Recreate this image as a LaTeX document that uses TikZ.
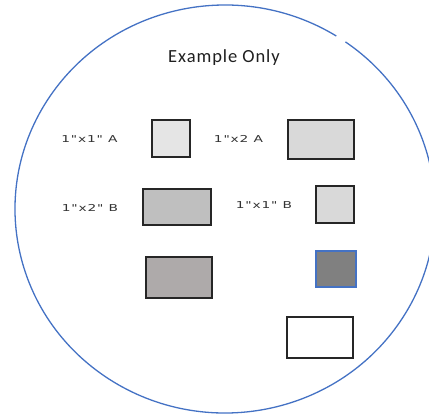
\documentclass[tikz,border=0pt]{standalone}
\usepackage{graphicx}
\usepackage{fontspec}
\setmainfont{Carlito}
\newfontfamily\titlefont[LetterSpace=5]{Carlito}
\newfontfamily\tagfont[LetterSpace=6]{DejaVu Sans}
\newcommand{\tagtxt}[1]{\scalebox{1.45}[1]{#1}}
\definecolor{rim}{HTML}{4472C4}
\definecolor{boxline}{HTML}{262626}
\definecolor{tagtext}{HTML}{333333}
\tikzset{
  box/.style={draw=boxline, line width=1.4pt, inner sep=0pt},
  tag/.style={font=\tagfont\fontsize{9.5}{10}\selectfont, text=tagtext, inner sep=0pt}
}
\begin{document}
\begin{tikzpicture}[x=1pt,y=-1pt]
\useasboundingbox (0,0) rectangle (429,415);
\coordinate (O) at (225,209);
\draw[rim, line width=1.3pt] (O) ++(-55:210 and 204)
  arc[start angle=-55, end angle=302, x radius=210, y radius=204];
\node[font=\titlefont\fontsize{18.5}{19}\selectfont, text=black!88] (title) at (224,58) {Example Only};
% boxes
\node[box, fill=black!10, minimum width=38pt, minimum height=37pt] (oneA) at (171,138.5) {};
\node[box, fill=black!15, minimum width=66pt, minimum height=39pt] (twoA) at (321,139.5) {};
\node[box, fill=black!25, minimum width=68pt, minimum height=36pt] (twoB) at (177,207) {};
\node[box, fill=black!15, minimum width=38pt, minimum height=37pt] (oneB) at (335,204.5) {};
\node[box, fill={rgb,255:red,174;green,170;blue,170}, minimum width=66pt, minimum height=41pt] (grey) at (179,277.5) {};
\node[box, draw=rim, fill=black!50, minimum width=40pt, minimum height=36pt] (dark) at (336,269) {};
\node[box, fill=white, minimum width=66pt, minimum height=41pt] (blank) at (320,337.5) {};
% labels
\node[tag] (oneAtag) at (89.5,139) {\tagtxt{1"x1" A}};
\node[tag] (twoAtag) at (238.5,139) {\tagtxt{1"x2 A}};
\node[tag] (twoBtag) at (90,208) {\tagtxt{1"x2" B}};
\node[tag] (oneBtag) at (264,205) {\tagtxt{1"x1" B}};
\end{tikzpicture}
\end{document}
